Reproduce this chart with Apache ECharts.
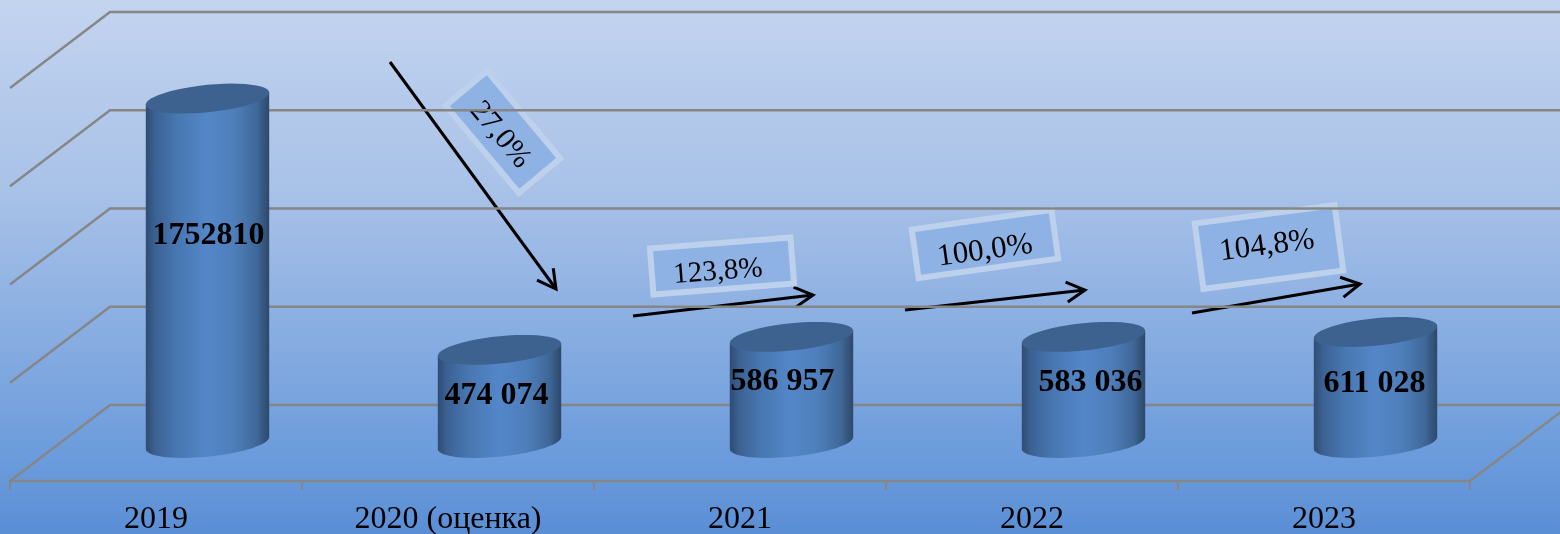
<!DOCTYPE html>
<html>
<head>
<meta charset="utf-8">
<title>chart</title>
<script src="https://cdn.jsdelivr.net/npm/echarts@6/dist/echarts.min.js"></script>
<style>
html, body { margin: 0; padding: 0; }
#chart { width: 1560px; height: 534px; }
</style>
</head>
<body>
<div id="chart"></div>
<script>
const categories = ['2019', '2020 (оценка)', '2021', '2022', '2023']
// heights as drawn in the picture, the printed labels are kept apart
const values = [1752810, 474074, 540000, 540000, 565000]
const valueLabels = ['1752810', '474 074', '586 957', '583 036', '611 028']
const gridTicks = [0, 500000, 1000000, 1500000, 2000000]

// label position against the cylinder base centre
const labelShift = [[1, -207], [-3, -47], [-9, -61], [7, -60], [-1, -59]]

const FONT = '"Liberation Serif", "Times New Roman", serif'
const depthX = 100
const depthY = 76

// sheared ellipse, keeps the side tangents vertical
const ellipsePoints = (cx, cy, a, from, to) => {
    const pts = []
    for (let i = 0; i <= 48; i++) {
        const t = from + (to - from) * i / 48
        pts.push([cx + a * Math.cos(t), cy + 13.7 * Math.sin(t) - 6 * Math.cos(t)])
    }
    return pts
}

const renderWall = (params, api) => {
    const sys = params.coordSys
    const y = api.coord([0, api.value(1)])[1]
    const lineStyle = { stroke: '#868686', lineWidth: 2.4, fill: null }
    const children = [{
        type: 'polyline',
        shape: { points: [[sys.x, y], [sys.x + depthX, y - depthY], [api.getWidth(), y - depthY]] },
        style: lineStyle
    }]
    if (api.value(1) === 0) {
        // floor edge on the right
        const rx = sys.x + sys.width
        children.push({
            type: 'line',
            shape: { x1: rx, y1: y, x2: rx + depthX, y2: y - depthY },
            style: lineStyle
        })
    }
    return { type: 'group', children }
}

const renderCylinder = (params, api) => {
    const i = api.value(0)
    const base = api.coord([i, 0])
    const top = api.coord([i, api.value(1)])
    const halfWidth = api.size([1, 0])[0] * 0.2113
    const cx = base[0] + depthX / 2 + 1.5
    const yBase = base[1] - depthY / 2
    const yTop = top[1] - depthY / 2
    const side = ellipsePoints(cx, yBase, halfWidth, 0, Math.PI)
    const body = [[cx + halfWidth, yTop - 6]].concat(side, [[cx - halfWidth, yTop + 6]])
    return {
        type: 'group',
        children: [{
            type: 'polygon',
            shape: { points: body },
            style: {
                fill: new echarts.graphic.LinearGradient(0, 0, 1, 0, [
                    { offset: 0, color: '#2f4c74' },
                    { offset: 0.08, color: '#3c6294' },
                    { offset: 0.25, color: '#4877b1' },
                    { offset: 0.5, color: '#5487c9' },
                    { offset: 0.72, color: '#4e7eba' },
                    { offset: 0.9, color: '#3f6899' },
                    { offset: 1, color: '#2d4869' }
                ])
            }
        }, {
            type: 'polygon',
            shape: { points: ellipsePoints(cx, yTop, halfWidth, 0, Math.PI * 2) },
            style: { fill: '#3d628f' }
        }, {
            type: 'text',
            style: {
                x: cx + labelShift[i][0],
                y: yBase + labelShift[i][1],
                text: valueLabels[i],
                font: 'bold 32px ' + FONT,
                fill: '#000',
                align: 'center',
                verticalAlign: 'middle'
            }
        }]
    }
}

// arrows and the percent boxes are drawn over the chart
const arrow = (x1, y1, x2, y2) => {
    const a = Math.atan2(y2 - y1, x2 - x1)
    const wing = d => [x2 - 21 * Math.cos(a + d), y2 - 21 * Math.sin(a + d)]
    return {
        type: 'group',
        children: [{
            type: 'line',
            shape: { x1, y1, x2, y2 },
            style: { stroke: '#000', lineWidth: 3 }
        }, {
            type: 'polyline',
            shape: { points: [wing(0.5), [x2, y2], wing(-0.5)] },
            style: { stroke: '#000', lineWidth: 3, fill: null }
        }]
    }
}

const percentBox = (text, cx, cy, w, h, deg, tx, ty, size) => {
    const rotation = deg * Math.PI / 180
    return {
        type: 'group',
        children: [{
            type: 'rect',
            x: cx,
            y: cy,
            rotation,
            shape: { x: -w / 2 + 3, y: -h / 2 + 3, width: w - 6, height: h - 6 },
            style: { fill: '#8db2e3', stroke: '#bdd0ec', lineWidth: 6 }
        }, {
            type: 'text',
            x: tx,
            y: ty,
            rotation,
            style: {
                text,
                font: size + 'px ' + FONT,
                fill: '#000',
                align: 'center',
                verticalAlign: 'middle'
            }
        }]
    }
}

const chartInstance = echarts.init(document.getElementById('chart'))
chartInstance.setOption({
    animation: false,
    backgroundColor: new echarts.graphic.LinearGradient(0, 0, 0, 1, [
        { offset: 0, color: '#c3d4ef' },
        { offset: 0.35, color: '#a9c2e8' },
        { offset: 0.6, color: '#8bafe2' },
        { offset: 0.85, color: '#6c9cdc' },
        { offset: 1, color: '#5a8ed5' }
    ]),
    // labels run to the very edge, keep the grid where it is set
    grid: { left: 10, right: 90, top: 88, bottom: 53, outerBoundsMode: 'none' },
    xAxis: {
        type: 'category',
        data: categories,
        axisLine: { lineStyle: { color: '#868686', width: 2.4 } },
        axisTick: { show: true, length: 9, lineStyle: { color: '#868686', width: 2 } },
        axisLabel: { color: '#000', fontSize: 32, fontFamily: FONT, margin: 23 }
    },
    yAxis: {
        type: 'value',
        min: 0,
        max: 2000000,
        interval: 500000,
        show: false,
        splitLine: { show: false }
    },
    series: [{
        type: 'custom',
        renderItem: renderWall,
        data: gridTicks.map(v => [0, v]),
        encode: { x: 0, y: 1 },
        silent: true,
        z: 1
    }, {
        type: 'custom',
        renderItem: renderCylinder,
        data: values.map((v, i) => [i, v]),
        encode: { x: 0, y: 1 },
        z: 3
    }],
    graphic: [
        arrow(390, 62, 556, 289),
        arrow(633, 316, 813, 295),
        arrow(905, 310, 1085, 290),
        arrow(1192, 313, 1360, 284),
        percentBox('27,0%', 503, 132, 120, 60, -50, 500, 135, 30),
        percentBox('123,8%', 722, 266, 147, 52, 4.5, 718, 272, 29),
        percentBox('100,0%', 985, 244, 147, 55, 8, 985, 251, 31),
        percentBox('104,8%', 1269, 247, 147, 72, 7.5, 1267, 246, 31)
    ]
})

window.addEventListener('resize', function () {
    chartInstance.resize();
});
</script>
</body>
</html>
